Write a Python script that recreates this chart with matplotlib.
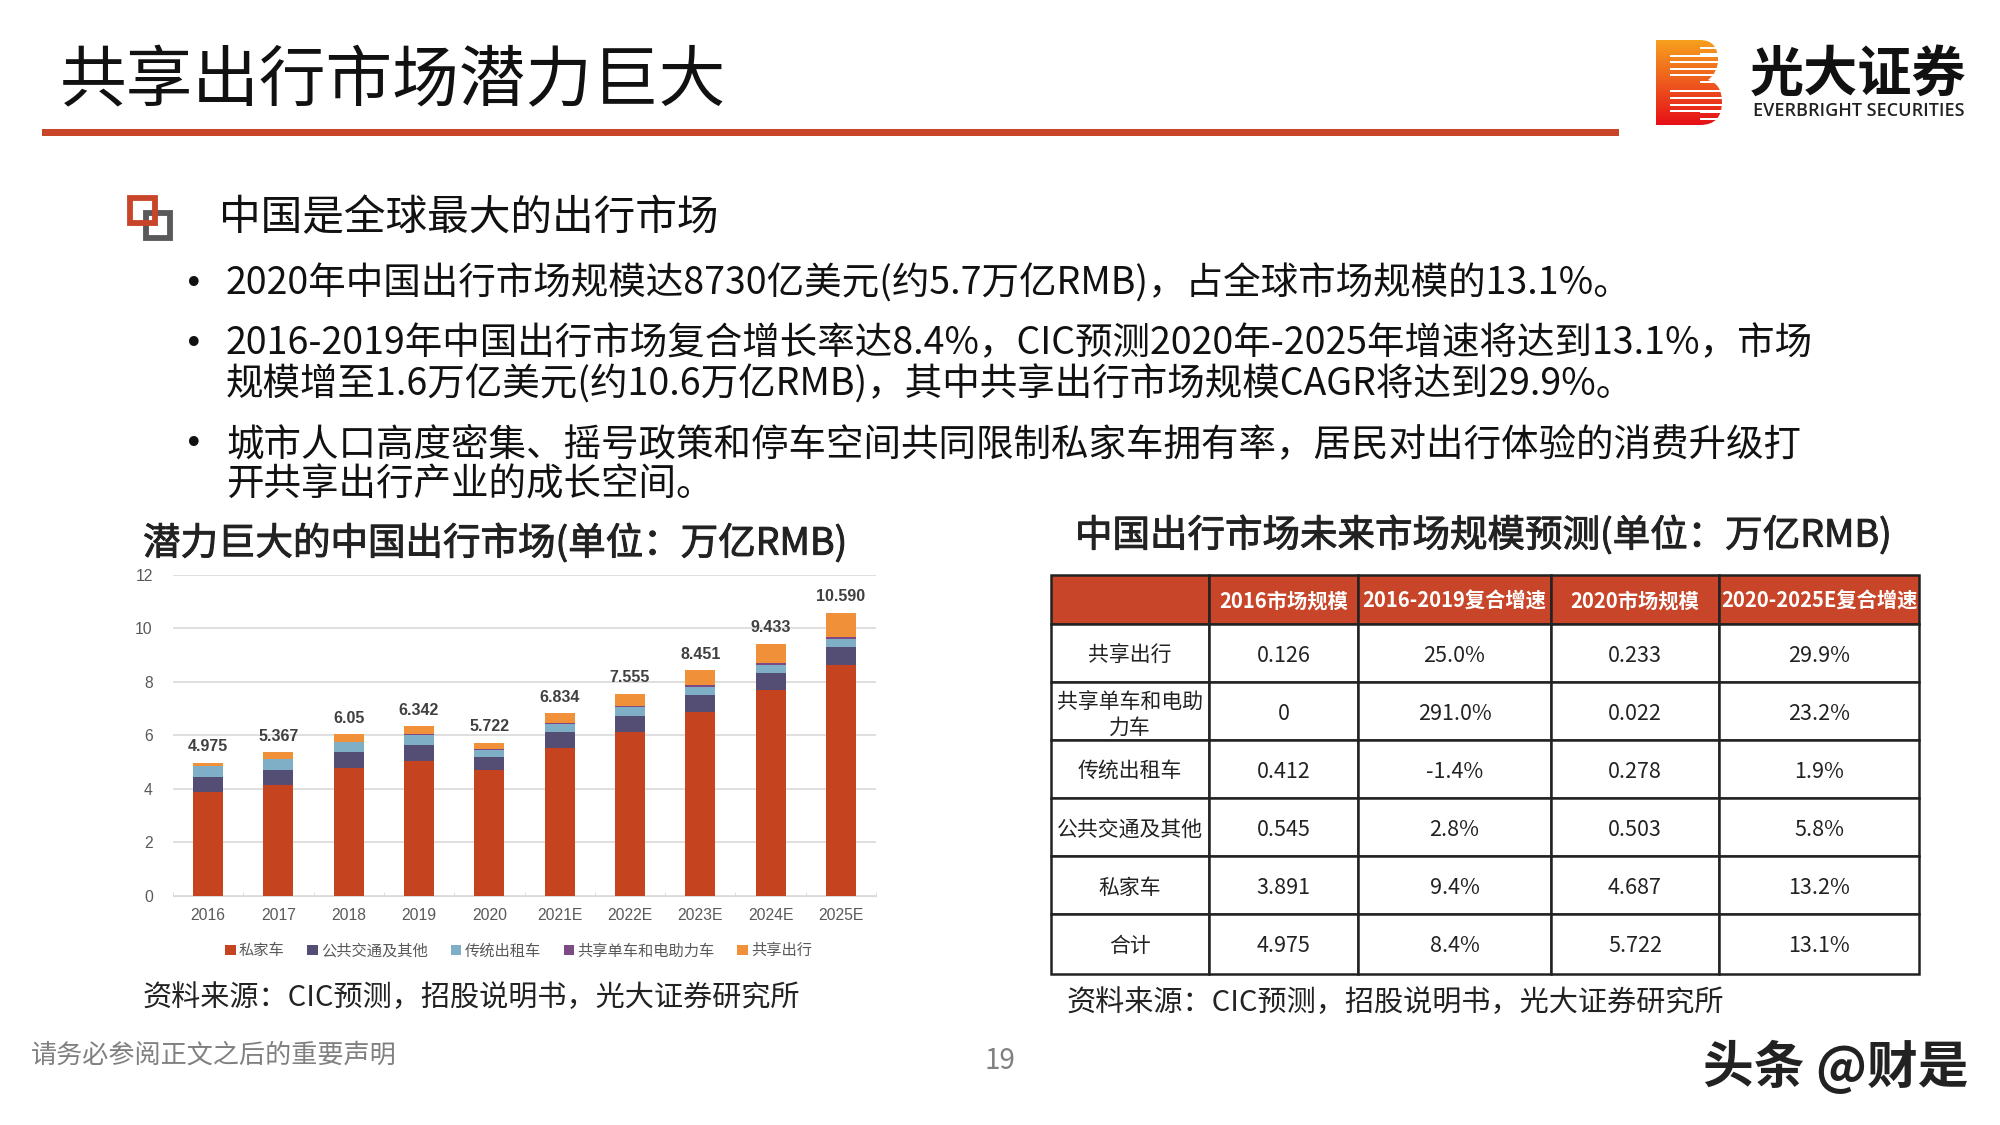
import numpy as np
import matplotlib
matplotlib.use("Agg")
import matplotlib.pyplot as plt
import matplotlib.patheffects as pe
from matplotlib.colors import LinearSegmentedColormap
from matplotlib.patches import PathPatch, Rectangle
from matplotlib.path import Path

plt.rcParams['font.family'] = ['Noto Sans CJK SC', 'DejaVu Sans']

# bar chart data
years = ['2016', '2017', '2018', '2019', '2020', '2021E', '2022E', '2023E', '2024E', '2025E']
private_car = [3.891, 4.16, 4.78, 5.05, 4.687, 5.52, 6.11, 6.89, 7.71, 8.65]
public_transit = [0.545, 0.56, 0.59, 0.60, 0.503, 0.59, 0.63, 0.62, 0.63, 0.66]
taxi = [0.412, 0.40, 0.37, 0.38, 0.278, 0.32, 0.31, 0.31, 0.30, 0.30]
bike = [0.0, 0.01, 0.01, 0.02, 0.022, 0.03, 0.04, 0.05, 0.06, 0.07]
sharing = [0.126, 0.237, 0.30, 0.292, 0.233, 0.374, 0.465, 0.581, 0.733, 0.91]
total_labels = ['4.975', '5.367', '6.05', '6.342', '5.722', '6.834', '7.555', '8.451', '9.433', '10.590']
series_names = ['私家车', '公共交通及其他', '传统出租车', '共享单车和电助力车', '共享出行']
series_colors = ['#C5431F', '#544E74', '#7FAFC6', '#7E4A85', '#F09038']

# table data
table_header = ['', '2016市场规模', '2016-2019复合增速', '2020市场规模', '2020-2025E复合增速']
table_rows = ['共享出行', '共享单车和电助\n力车', '传统出租车', '公共交通及其他', '私家车', '合计']
size_2016 = ['0.126', '0', '0.412', '0.545', '3.891', '4.975']
cagr_2016_2019 = ['25.0%', '291.0%', '-1.4%', '2.8%', '9.4%', '8.4%']
size_2020 = ['0.233', '0.022', '0.278', '0.503', '4.687', '5.722']
cagr_2020_2025 = ['29.9%', '23.2%', '1.9%', '5.8%', '13.2%', '13.1%']

RED = '#C8452A'
W, H = 2000, 1125

fig = plt.figure(figsize=(20, 11.25), dpi=100, facecolor='white')


def px_axes(left, top, right, bottom):
    return fig.add_axes([left / W, 1 - bottom / H, (right - left) / W, (bottom - top) / H])


# slide background layer in pixel coordinates
bg = px_axes(0, 0, W, H)
bg.set_xlim(0, W)
bg.set_ylim(H, 0)
bg.axis('off')

bg.text(60, 83, '共享出行市场潜力巨大', fontsize=48, va='center', color='#111111')
bg.add_patch(Rectangle((42, 129), 1577, 6.5, color=RED, lw=0))

# heading icon
bg.add_patch(Rectangle((145.5, 212.5), 24, 25, fill=False, ec='#595959', lw=4.2))
bg.add_patch(Rectangle((129.5, 197.5), 25, 25, fill=False, ec=RED, lw=4.2))
bg.text(219, 219, '中国是全球最大的出行市场', fontsize=30, va='center', color='#111111')

body_lines = [
    (284, '2020年中国出行市场规模达8730亿美元(约5.7万亿RMB)，占全球市场规模的13.1%。', True),
    (344, '2016-2019年中国出行市场复合增长率达8.4%，CIC预测2020年-2025年增速将达到13.1%，市场', True),
    (385, '规模增至1.6万亿美元(约10.6万亿RMB)，其中共享出行市场规模CAGR将达到29.9%。', False),
    (445, '城市人口高度密集、摇号政策和停车空间共同限制私家车拥有率，居民对出行体验的消费升级打', True),
    (485, '开共享出行产业的成长空间。', False),
]
for y, line, has_dot in body_lines:
    bg.text(226, y, line, fontsize=27, va='center', color='#111111')
    if has_dot:
        bg.text(194, y, '•', fontsize=24, va='center', ha='center', color='#111111', family='DejaVu Sans')

medium = [pe.withStroke(linewidth=0.7, foreground='#222222')]
bg.text(143, 544, '潜力巨大的中国出行市场(单位：万亿RMB)', fontsize=27, va='center', color='#222222', path_effects=medium)
bg.text(1075, 536, '中国出行市场未来市场规模预测(单位：万亿RMB)', fontsize=27, va='center', color='#222222', path_effects=medium)
bg.text(143, 998, '资料来源：CIC预测，招股说明书，光大证券研究所', fontsize=21, va='center', color='#222222')
bg.text(1067, 1003, '资料来源：CIC预测，招股说明书，光大证券研究所', fontsize=21, va='center', color='#222222')

bg.text(31, 1055, '请务必参阅正文之后的重要声明', fontsize=18.8, va='center', color='#808080')
bg.text(1000, 1061, '19', fontsize=20, va='center', ha='center', color='#808080')
bg.text(1703, 1067, '头条 @财是', fontsize=36.5, va='center', weight='bold', color='#222222')

# logo
grad = np.linspace(0, 1, 256).reshape(-1, 1)
cmap = LinearSegmentedColormap.from_list('logo', ['#F7A01D', '#EE5A1E', '#E60F17'])
img = bg.imshow(grad, extent=(1656, 1722, 125, 40), cmap=cmap, aspect='auto')
b_path = Path(
    [(1656, 40), (1700, 40), (1718, 40), (1718, 60), (1718, 72), (1708, 80),
     (1722, 84), (1722, 102), (1722, 125), (1700, 125), (1656, 125), (1656, 40)],
    [Path.MOVETO, Path.LINETO, Path.CURVE3, Path.CURVE3, Path.CURVE3, Path.CURVE3,
     Path.CURVE3, Path.CURVE3, Path.CURVE3, Path.CURVE3, Path.LINETO, Path.CLOSEPOLY])
clip = PathPatch(b_path, transform=bg.transData, fc='none', ec='none')
bg.add_patch(clip)
img.set_clip_path(clip)
for sy in [47, 53, 74, 81, 111, 118]:
    bg.add_patch(Rectangle((1700, sy), 26, 1.8, color='white', lw=0))
for sy in [54.5, 61, 67.5, 74, 90, 97, 103.5, 110]:
    bg.add_patch(Rectangle((1670, sy), 56, 2.2, color='white', lw=0))
bg.set_xlim(0, W)
bg.set_ylim(H, 0)
bg.text(1858, 75, '光大证券', fontsize=39, weight='bold', va='center', ha='center', color='#111111')
bg.text(1859, 111, 'EVERBRIGHT SECURITIES', fontsize=13, weight='semibold', va='center', ha='center',
        color='#222222', family='Open Sans')

# stacked bar chart
ax = px_axes(173, 575, 876, 895.7)
x = np.arange(len(years))
bottom = np.zeros(len(years))
for name, vals, col in zip(series_names, [private_car, public_transit, taxi, bike, sharing], series_colors):
    ax.bar(x, vals, width=0.427, bottom=bottom, color=col, label=name, zorder=3)
    bottom = bottom + np.array(vals)
for xi, top, label in zip(x, bottom, total_labels):
    ax.annotate(label, (xi, top), textcoords='offset points', xytext=(0, 6), ha='center', va='bottom',
                fontsize=11.5, weight='bold', color='#404040', family='Liberation Sans')
ax.set_xlim(-0.5, 9.5)
ax.set_ylim(0, 12)
ax.set_yticks(range(0, 13, 2))
ax.set_xticks(x, years)
ax.set_xticks(np.arange(-0.5, 10, 1), minor=True)
ax.yaxis.grid(True, color='#D9D9D9', lw=1.2, zorder=0)
ax.set_axisbelow(True)
ax.tick_params(axis='y', left=False, labelsize=11.3, labelcolor='#595959', pad=11)
ax.tick_params(axis='x', which='major', bottom=False, labelsize=11.3, labelcolor='#595959', pad=5.5)
ax.tick_params(axis='x', which='minor', length=3, color='#D9D9D9', direction='in')
for lab in ax.get_xticklabels() + ax.get_yticklabels():
    lab.set_family('Liberation Sans')
ax.spines['right'].set_visible(False)
ax.spines['left'].set_visible(False)
ax.spines['top'].set_visible(False)
ax.spines['bottom'].set_color('#D9D9D9')
ax.patch.set_alpha(0)
ax.legend(loc='center', bbox_to_anchor=(0.4915, -0.172), ncol=5, frameon=False, fontsize=11,
          labelcolor='#595959', handlelength=0.7, handleheight=0.7, handletextpad=0.2, columnspacing=1.5)

# table
tax = px_axes(1051, 575, 1919, 974)
tax.axis('off')
cell_text = [list(r) for r in zip(table_rows, size_2016, cagr_2016_2019, size_2020, cagr_2020_2025)]
col_w = np.array([158, 149, 193, 168, 200]) / 868
tbl = tax.table(cellText=[table_header] + cell_text, colWidths=list(col_w), cellLoc='center', bbox=[0, 0, 1, 1])
tbl.auto_set_font_size(False)
row_h = [49, 58, 58, 58, 58, 58, 60]
for (r, c), cell in tbl.get_celld().items():
    cell.set_height(row_h[r] / sum(row_h))
    cell.set_linewidth(1.8)
    cell.set_edgecolor('#222222')
    cell.get_text().set_va('center_baseline')
    if r == 0:
        cell.set_facecolor(RED)
        cell.get_text().set_color('white')
        cell.get_text().set_fontsize(14.6)
        cell.get_text().set_weight('bold')
    else:
        cell.get_text().set_color('#222222')
        cell.get_text().set_fontsize(15 if c == 0 else 15.5)

fig.savefig('out.png', dpi=100)
